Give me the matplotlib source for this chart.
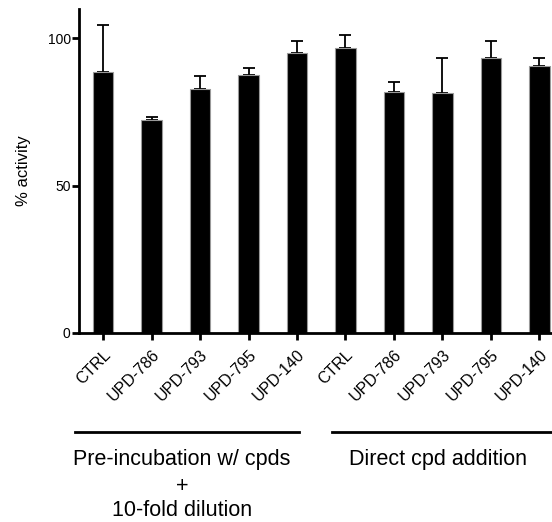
import matplotlib
matplotlib.use("Agg")
import matplotlib.pyplot as plt
import numpy as np

plt.rcParams['font.family'] = ['Liberation Sans', 'DejaVu Sans']

categories = ["CTRL", "UPD-786", "UPD-793", "UPD-795", "UPD-140",
              "CTRL", "UPD-786", "UPD-793", "UPD-795", "UPD-140"]
values = [88.6, 72.2, 82.7, 87.5, 95.1, 96.8, 81.9, 81.5, 93.4, 90.5]
errors = [15.9, 1.1, 4.4, 2.5, 4.2, 4.3, 3.3, 11.8, 5.8, 2.8]
yticks = [0, 50, 100]
group1_lines = ["Pre-incubation w/ cpds", "+", "10-fold dilution"]
group2_label = "Direct cpd addition"

W, H = 552, 522
fig = plt.figure(figsize=(W / 100, H / 100), dpi=100)
ax = fig.add_axes([79 / W, 189 / H, 473 / W, 324 / H])

x = np.arange(len(categories))
ax.bar(x, values, width=0.43, color='black', edgecolor='#999999', linewidth=0.8, zorder=2)
ax.errorbar(x, values, yerr=[np.zeros(len(errors)), errors], fmt='none',
            ecolor='black', elinewidth=1.3, capsize=4, capthick=1.3, zorder=1)

ax.set_xlim(-0.495, 9.258)
ax.set_ylim(0, 110)
ax.set_yticks(yticks)
ax.set_yticklabels([str(t) for t in yticks], fontsize=10)
ax.set_xticks(x)
ax.set_xticklabels(categories, rotation=45, ha='right', rotation_mode='anchor', fontsize=11.5)
ax.tick_params(axis='both', direction='out', length=5, width=2, pad=3)
ax.tick_params(axis='x', pad=5)
ax.tick_params(axis='y', pad=1)
for s in ['top', 'right']:
    ax.spines[s].set_visible(False)
for s in ['left', 'bottom']:
    ax.spines[s].set_linewidth(2)
ax.set_ylabel("% activity", fontsize=12, labelpad=12)

# group annotations
def fx(px):
    return px / W

def fy(py):
    return 1 - py / H

fig.add_artist(plt.Line2D([fx(75), fx(299)], [fy(432), fy(432)], color='black', lw=2))
fig.add_artist(plt.Line2D([fx(332), fx(552)], [fy(432), fy(432)], color='black', lw=2))
for txt, base in zip(group1_lines, [465, 492, 516]):
    fig.text(fx(182), fy(base), txt, ha='center', va='baseline', fontsize=15.5)
fig.text(fx(438), fy(465), group2_label, ha='center', va='baseline', fontsize=15.5)

fig.savefig("out.png", dpi=100)
